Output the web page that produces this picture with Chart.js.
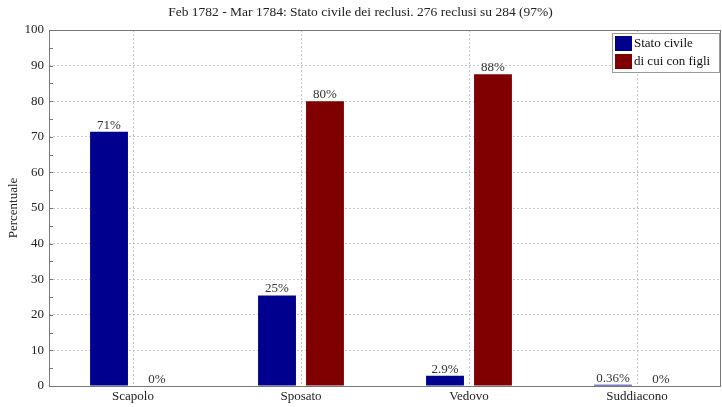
<!DOCTYPE html>
<html><head><meta charset="utf-8">
<script src="https://cdn.jsdelivr.net/npm/chart.js@4/dist/chart.umd.min.js"></script>
<style>html,body{margin:0;padding:0;background:#fff}#wrap{width:722px;height:407px}</style>
</head><body><div id="wrap"><canvas id="c" width="722" height="407"></canvas></div>
<script>
const categories = ["Scapolo", "Sposato", "Vedovo", "Suddiacono"];
const statoCivile = [71.4, 25.4, 2.9, 0.36];
const conFigli = [0, 80.0, 87.6, 0];
const seriesNames = ["Stato civile", "di cui con figli"];
const yTicks = [0, 10, 20, 30, 40, 50, 60, 70, 80, 90, 100];
const titleText = "Feb 1782 - Mar 1784: Stato civile dei reclusi. 276 reclusi su 284 (97%)";
const colors = ["#00008f", "#800000"];
const FONT = "'Liberation Serif', 'DejaVu Serif', serif";

function fmt(v){ return (v === 0 ? "0" : String(Number(v.toPrecision(2)))) + "%"; }

const decor = {
  id: 'decor',
  afterDatasetsDraw(chart){
    const ctx = chart.ctx, a = chart.chartArea, ys = chart.scales.y;
    ctx.save();
    ctx.strokeStyle = '#777'; ctx.lineWidth = 1;
    ctx.strokeRect(Math.round(a.left)+0.5, Math.round(a.top)+0.5, Math.round(a.right-a.left)-1, Math.round(a.bottom-a.top));
    for (let v = 0; v <= 100; v += 5){
      const y = Math.round(ys.getPixelForValue(v)) + 0.5;
      ctx.beginPath(); ctx.moveTo(a.left, y); ctx.lineTo(a.left + 4, y); ctx.stroke();
    }
    ctx.font = "13px " + FONT; ctx.fillStyle = '#333'; ctx.textAlign = 'center'; ctx.textBaseline = 'bottom';
    chart.data.datasets.forEach((ds, i) => {
      chart.getDatasetMeta(i).data.forEach((bar, j) => {
        ctx.fillText(fmt(ds.data[j]), bar.x, bar.y);
      });
    });
    const lw = 107, lh = 39, lx = a.right - lw - 2, ly = a.top + 3;
    ctx.fillStyle = '#fff'; ctx.fillRect(lx, ly, lw, lh);
    ctx.strokeStyle = '#999'; ctx.strokeRect(lx + 0.5, ly + 0.5, lw, lh);
    ctx.textAlign = 'left'; ctx.textBaseline = 'middle';
    seriesNames.forEach((n, i) => {
      const cy = ly + 10 + i * 18;
      ctx.fillStyle = colors[i]; ctx.fillRect(lx + 3, cy - 7, 17, 15);
      ctx.fillStyle = '#111'; ctx.font = "13px " + FONT; ctx.fillText(n, lx + 22, cy + 1);
    });
    ctx.restore();
  }
};

new Chart(document.getElementById('c'), {
  type: 'bar',
  data: {
    labels: categories,
    datasets: [
      { label: seriesNames[0], data: statoCivile, backgroundColor: colors[0], borderWidth: 0 },
      { label: seriesNames[1], data: conFigli, backgroundColor: colors[1], borderWidth: 0 }
    ]
  },
  options: {
    responsive: false, animation: false,
    layout: { padding: { left: 0, right: 1, top: 0, bottom: 0 } },
    datasets: { bar: { categoryPercentage: 0.571, barPercentage: 0.79 } },
    plugins: {
      legend: { display: false },
      tooltip: { enabled: false },
      title: { display: true, text: titleText, color: '#222', font: { family: FONT, size: 13.5, weight: 'normal', lineHeight: 1.2 }, padding: { top: 4, bottom: 9.8 } }
    },
    scales: {
      x: {
        grid: { offset: false, color: '#c8c8c8', drawTicks: false },
        border: { display: false, dash: [2,2] },
        ticks: { color: '#222', font: { family: FONT, size: 13 }, padding: 3 },
        afterFit(s){ s.height = 21; }
      },
      y: {
        min: 0, max: 100,
        afterBuildTicks(s){ s.ticks = yTicks.map(v => ({ value: v })); },
        grid: { color: '#c8c8c8', drawTicks: false },
        border: { display: false, dash: [2,2] },
        ticks: { color: '#222', font: { family: FONT, size: 13 }, padding: 5 },
        title: { display: true, text: 'Percentuale', color: '#222', font: { family: FONT, size: 13 }, padding: { top: 6, bottom: 0 } },
        afterFit(s){ s.width = 49; }
      }
    }
  },
  plugins: [decor]
});
</script></body></html>
